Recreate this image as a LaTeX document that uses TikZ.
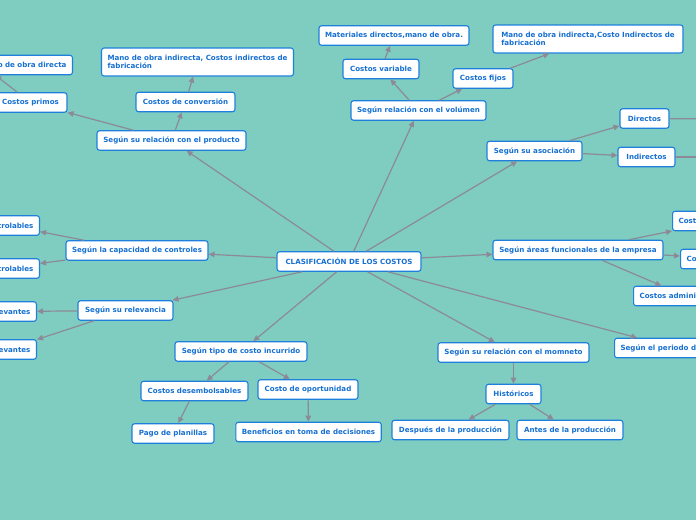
\documentclass[tikz,border=0pt]{standalone}
\usepackage{fontspec}
\setmainfont{DejaVu Sans}
\usetikzlibrary{arrows.meta}
\definecolor{bg}{RGB}{126,205,192}
\definecolor{nodeborder}{RGB}{30,128,220}
\definecolor{nodetext}{RGB}{22,112,210}
\definecolor{conn}{RGB}{140,138,150}
\tikzset{
  box/.style={draw=nodeborder, line width=1.1pt, fill=white, rounded corners=2.5pt,
    text=nodetext, font=\fontsize{7.1}{8.2}\selectfont\bfseries,
    minimum height=19.5pt, inner xsep=6pt, inner ysep=2pt},
  twoline/.style={box, align=left, minimum height=28pt},
  link/.style={draw=conn, line width=1.2pt, -{Triangle[length=6pt,width=5.5pt]}},
  plainlink/.style={draw=conn, line width=1.2pt}
}
\begin{document}
\begin{tikzpicture}[x=1pt,y=-1pt]
\fill[bg] (0,0) rectangle (696,520);
\useasboundingbox (0,0) rectangle (696,520);
\clip (0,0) rectangle (696,520);

% nodes
\node[box, minimum width=144pt] (c) at (349,261.5) {CLASIFICACIÓN DE LOS COSTOS};
\node[box, minimum width=149pt] (prod) at (171.5,140.5) {Según su relación con el producto};
\node[box, minimum width=99pt] (conv) at (185.5,102) {Costos de conversión};
\node[twoline, minimum width=191pt] (mi1) at (197.5,62) {Mano de obra indirecta, Costos indirectos de\\fabricación};
\node[box, minimum width=73pt] (prim) at (30.5,102.5) {Costos primos};
\node[box, anchor=east] (mod) at (73,65) {Materiales directos, mano de obra directa};

\node[box, minimum width=142pt] (cap) at (137,250.5) {Según la capacidad de controles};
\node[box, anchor=east] (ctl1) at (40,225.5) {Controlables};
\node[box, anchor=east] (ctl2) at (40,268.5) {No controlables};
\node[box, minimum width=95pt] (rel) at (125.5,310.5) {Según su relevancia};
\node[box, anchor=east] (rel1) at (37,311.5) {Relevantes};
\node[box, anchor=east] (rel2) at (37,349.5) {Irrelevantes};

\node[box, minimum width=132pt] (tipo) at (241,351.5) {Según tipo de costo incurrido};
\node[box, minimum width=107pt] (des) at (194.5,391) {Costos desembolsables};
\node[box, minimum width=100pt] (opo) at (308,389.5) {Costo de oportunidad};
\node[box, minimum width=82pt] (pla) at (173,433.5) {Pago de planillas};
\node[box, minimum width=145pt] (ben) at (308.5,432) {Beneficios en toma de decisiones};

\node[box, minimum width=151pt] (mom) at (513.5,352.5) {Según su relación con el momneto};
\node[box, minimum width=55pt] (his) at (513.5,394) {Históricos};
\node[box, minimum width=117pt] (dep) at (450.5,430) {Después de la producción};
\node[box, minimum width=106pt] (ant) at (570,430) {Antes de la producción};
\node[box, anchor=west] (per) at (614,348) {Según el periodo de cálculo};

\node[box, minimum width=170pt] (are) at (578,250) {Según áreas funcionales de la empresa};
\node[box, anchor=west] (cp) at (672,221) {Costos de producción};
\node[box, anchor=west] (cd) at (680,259) {Costos de distribución};
\node[box, anchor=west] (ca) at (633,296) {Costos administrativos};

\node[box, minimum width=95pt] (aso) at (534.5,151) {Según su asociación};
\node[box, minimum width=49pt] (dir) at (644.5,118.5) {Directos};
\node[box, minimum width=57pt] (ind) at (646.5,157) {Indirectos};
\coordinate (dirR) at (720,119);
\coordinate (indR) at (720,157);

\node[box, minimum width=135pt] (vol) at (418.5,110.5) {Según relación con el volúmen};
\node[box, minimum width=76pt] (var) at (381,69) {Costos variable};
\node[box, minimum width=60pt] (fij) at (483,78.5) {Costos fijos};
\node[box, minimum width=150pt] (mat) at (394,35.5) {Materiales directos,mano de obra.};
\node[twoline, minimum width=190pt] (mi2) at (588,39) {Mano de obra indirecta,Costo Indirectos de\\fabricación};

% connectors
\draw[link] (c) -- (prod);
\draw[link] (c) -- (vol);
\draw[link] (c) -- (aso);
\draw[link] (c) -- (are);
\draw[link] (c) -- (per);
\draw[link] (c) -- (mom);
\draw[link] (c) -- (tipo);
\draw[link] (c) -- (rel);
\draw[link] (c) -- (cap);
\draw[link] (prod) -- (conv);
\draw[link] (conv) -- (mi1);
\draw[link] (prod) -- (prim);
\draw[link] (prim) -- (mod);
\draw[link] (vol) -- (var);
\draw[link] (var) -- (mat);
\draw[link] (vol) -- (fij);
\draw[link] (fij) -- (mi2);
\draw[link] (aso) -- (dir);
\draw[link] (aso) -- (ind);
\draw[plainlink] (dir) -- (dirR);
\draw[plainlink] (ind) -- (indR);
\draw[link] (are) -- (cp);
\draw[link] (are) -- (cd);
\draw[link] (are) -- (ca);
\draw[link] (cap) -- (ctl1);
\draw[link] (cap) -- (ctl2);
\draw[link] (rel) -- (rel1);
\draw[link] (rel) -- (rel2);
\draw[link] (tipo) -- (des);
\draw[link] (tipo) -- (opo);
\draw[link] (des) -- (pla);
\draw[link] (opo) -- (ben);
\draw[link] (mom) -- (his);
\draw[link] (his) -- (dep);
\draw[link] (his) -- (ant);
\end{tikzpicture}
\end{document}
